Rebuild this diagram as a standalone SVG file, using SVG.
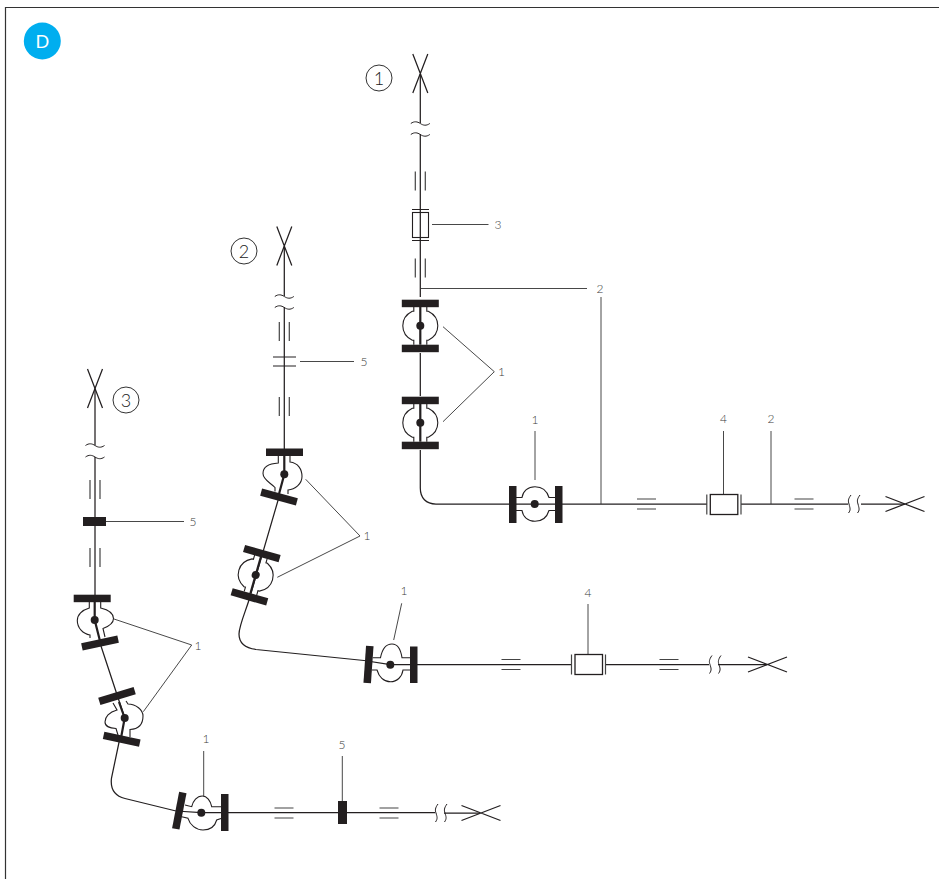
<svg xmlns="http://www.w3.org/2000/svg" width="939" height="879" viewBox="0 0 939 879">
<style>
.p{fill:none;stroke:#231f20;stroke-width:1.25}
.b{fill:none;stroke:#231f20;stroke-width:1.1}
.t{fill:none;stroke:#231f20;stroke-width:2.2}
.s{fill:none;stroke:#231f20;stroke-width:1}
.k{fill:none;stroke:#444;stroke-width:1.2}
.l{fill:none;stroke:#333;stroke-width:.9}
.f{fill:#231f20;stroke:none}
.tx{font-family:"Lato","Liberation Sans",sans-serif;font-size:12px;font-weight:300;fill:#3a3a3a;text-anchor:middle}
.cn{font-family:"Lato","Liberation Sans",sans-serif;font-size:18px;font-weight:300;fill:#222;text-anchor:middle}
.c{fill:none;stroke:#333;stroke-width:1}
.w{fill:#fff;stroke:#231f20;stroke-width:1.3}
</style>
<defs>
<g id="valve">
<rect class="f" x="-18.500" y="-26" width="37" height="7.500"/>
<rect class="f" x="-18.500" y="19" width="37" height="7.500"/>
<path class="b" d="M-6.500,-19V-14.500H-8C-13,-12 -17.500,-7 -17.500,0C-17.500,7 -13,12 -8,14.500H-6.500V19"/>
<path class="b" d="M6.500,-19V-14.500H8C13,-12 17.500,-7 17.500,0C17.500,7 13,12 8,14.500H6.500V19"/>
<path class="t" d="M0,-19V19"/>
<circle class="f" r="4"/>
</g>
<path id="wave" class="s" d="M-9.500,0C-6,-2.500 -3,-2 0,0C3,2 6,2.500 9.500,0"/>
<path id="ticks" class="k" d="M-5,-9.500V9.500M5,-9.500V9.500"/>
<path id="cross" class="p" d="M-19.500,-7.500L19.500,7.500M-19.500,7.500L19.500,-7.500"/>
</defs>

<g id="frame"><path d="M5.500,879V7.500H939" fill="none" stroke="#333" stroke-width="1.200"/></g>
<g id="badge"><circle cx="42.300" cy="41" r="18.500" fill="#00aeef"/><text x="42.300" y="47.500" font-family="Lato,'Liberation Sans',sans-serif" font-size="18" fill="#fff" text-anchor="middle">D</text></g>

<g id="connectors">
<path class="p" d="M420.300,74V123M420.300,134V297M420.300,353V396M420.300,450V488C420.300,498 426,504 436,504H510M560,504H707M741,504H848M861,504H905"/>
<use href="#cross" transform="translate(420.300,73.500) rotate(90)"/>
<use href="#wave" x="420.300" y="123.500"/>
<use href="#wave" x="420.300" y="134.500"/>
<use href="#ticks" x="420.300" y="181"/>
<use href="#ticks" x="420.300" y="268"/>
<path class="l" d="M432,224.500H488.500M420.300,288.500H587M601,297V504M443,326.700L494.300,371.700L443,421.700M535,431V480M723.500,431V494M771,431V504"/>
<use href="#ticks" transform="translate(646.500,504) rotate(90)"/>
<use href="#ticks" transform="translate(804,504) rotate(90)"/>
<path class="s" d="M851,495C848,499 848,501 849,504C850,508 851,510 848.500,513M860,495C857,499 857,501 858,504C859,508 860,510 857.500,513"/>
<use href="#cross" x="905" y="504"/>

<path class="p" d="M284.300,246V296M284.300,307V449M279,497L249,600C246,610 239,626 239,634C239,643 245,648 256,649.500L364,660.500L390.300,664.700H571M605,664.500H709M718,664.500H767"/>
<use href="#cross" transform="translate(284.300,246) rotate(90)"/>
<use href="#wave" x="284.300" y="296.500"/>
<use href="#wave" x="284.300" y="307.500"/>
<use href="#ticks" x="284.300" y="331.500"/>
<use href="#ticks" x="284.300" y="406.500"/>
<path class="l" d="M300,361.500H354M305.700,479.300L360,536L277.300,577.300M401.700,603.300L393.700,640M588,604V654"/>
<use href="#ticks" transform="translate(511,664.500) rotate(90)"/>
<use href="#ticks" transform="translate(669,664.500) rotate(90)"/>
<path class="s" d="M712,655.500C709,659.500 709,662 710,664.500C711,668 712,670 709.500,673.500M721,655.500C718,659.500 718,662 719,664.500C720,668 721,670 718.500,673.500"/>
<use href="#cross" x="767.500" y="664.500"/>

<path class="p" d="M95,388V445M95,457V595M100,643L124.700,718M119.500,740L111.500,778C110,790 115,796 125,798.500L176,811L201.300,812.700H435M444,813H480"/>
<use href="#cross" transform="translate(95,388.500) rotate(90)"/>
<use href="#wave" x="95" y="445.500"/>
<use href="#wave" x="95" y="457"/>
<use href="#ticks" x="95" y="489.500"/>
<use href="#ticks" x="95" y="557.500"/>
<path class="l" d="M106,521.500H184M114,619L191.700,645L143.300,711.700M203.700,751V796M342.300,756V801"/>
<use href="#ticks" transform="translate(284,813) rotate(90)"/>
<use href="#ticks" transform="translate(389,813) rotate(90)"/>
<path class="s" d="M438,804C435,808 435,810.500 436,813C437,816.500 438,818.500 435.500,822M447,804C444,808 444,810.500 445,813C446,816.500 447,818.500 444.500,822"/>
<use href="#cross" x="481" y="813"/>
</g>

<g id="c1"><circle class="c" cx="379" cy="78" r="13"/><text class="cn" x="379" y="84.500">1</text></g>
<g id="c2"><circle class="c" cx="244" cy="251" r="13"/><text class="cn" x="244" y="257.500">2</text></g>
<g id="c3"><circle class="c" cx="126" cy="400" r="13"/><text class="cn" x="126" y="406.500">3</text></g>

<g id="fuse1"><path class="s" d="M412,209.500H429M412,240.500H429"/><rect class="b" x="412.500" y="212.500" width="16" height="25"/></g>
<g id="valve1a"><use href="#valve" x="420.300" y="325.700"/></g>
<g id="valve1b"><use href="#valve" x="420.300" y="422.700"/></g>
<g id="valve1c">
<rect class="f" x="509" y="486" width="7.500" height="37"/><rect class="f" x="555" y="486" width="7.500" height="37"/>
<path class="b" d="M516,497.500H522C523,491 528,486.700 535,486.700C542,486.700 547,491 549,497.500H555"/>
<path class="b" d="M516,510.500H522C523,517 528,521.300 535,521.300C542,521.300 547,517 549,510.500H555"/>
<path class="p" d="M516,504H555"/><circle class="f" cx="534.700" cy="504" r="4"/>
</g>
<g id="meter1"><rect class="w" x="710.300" y="494.500" width="27.500" height="20"/><path class="k" d="M706.800,494.500V514.500M741,494.500V514.500"/></g>

<g id="joint2"><path class="s" d="M273,357H296M273,366H296"/></g>
<g id="valve2a">
<rect class="f" x="266" y="448.500" width="37" height="7.500"/>
<rect class="f" x="-18.500" y="-3.750" width="37" height="7.500" transform="translate(279,497) rotate(15)"/>
<path class="b" d="M278.300,456V463C271,463.500 263,466 263,473.500C263,480 271,483 275,487.500V491.500"/>
<path class="b" d="M290,456V462C298,463 302,469 302,476.500C302,484 295,489.500 288,490V494"/>
<path class="t" d="M284.300,456V474.300L279,494"/>
<circle class="f" cx="284.300" cy="474.300" r="4"/>
</g>
<g id="valve2b"><use href="#valve" transform="translate(255.700,575) rotate(16)"/></g>
<g id="valve2c">
<rect class="f" x="-3.750" y="-18.500" width="7.500" height="37" transform="translate(368.500,664.500) rotate(4)"/>
<rect class="f" x="410" y="646.500" width="7.500" height="36.500"/>
<path class="b" d="M372.700,657.700H380.500C382,650 386,644 392,644C398,644 401,651 402,657.700H410"/>
<path class="b" d="M372,670H377C379,677 384,681.700 390.500,681.700C397,681.700 402,677 403,670H410"/>
<circle class="f" cx="390.300" cy="664.700" r="4"/>
</g>
<g id="meter2"><rect class="w" x="575" y="654.500" width="27.500" height="20"/><path class="k" d="M571.500,654.500V674.500M605.500,654.500V674.500"/></g>

<g id="block3"><rect class="f" x="83" y="517" width="23" height="9"/></g>
<g id="valve3a">
<rect class="f" x="73.700" y="594.700" width="37" height="7.500"/>
<rect class="f" x="-18.500" y="-3.750" width="37" height="7.500" transform="translate(100,643) rotate(-12)"/>
<path class="b" d="M89.300,602V608C82,610 77.300,615 77.300,620.500C77.300,628 83,634 90,635V638"/>
<path class="b" d="M100.700,602V608C107,609.500 113.500,612 113.500,618.500C113.500,624 107,627 103,628.500L105,637"/>
<path class="t" d="M94.700,602V620L100,641"/>
<circle class="f" cx="94.700" cy="620" r="4"/>
</g>
<g id="valve3b">
<rect class="f" x="-18.500" y="-3.750" width="37" height="7.500" transform="translate(117,696) rotate(-17)"/>
<rect class="f" x="-18.500" y="-3.750" width="37" height="7.500" transform="translate(121.700,739.300) rotate(12)"/>
<path class="b" d="M113,703L117,710C109,712 105,717 105,722C105,727 110,728 116,728.500L118,735"/>
<path class="b" d="M126,701L128,704C136,704 143,710 143,716C143,724 139,729 130,729.500V737"/>
<path class="t" d="M119,702L124.700,718L121,738"/>
<circle class="f" cx="124.700" cy="718" r="4"/>
</g>
<g id="valve3c">
<rect class="f" x="-3.750" y="-18.500" width="7.500" height="37" transform="translate(179.300,810.700) rotate(11)"/>
<rect class="f" x="221" y="794" width="7.500" height="37"/>
<path class="b" d="M185,805L191.700,806.700C193,801 197,796 202.300,796C207,796 210.500,801 211.700,806.700H221"/>
<path class="b" d="M181.700,816.700L188,818.300C190,825 196,830 203,830C210,830 215,826 216.700,820L221,818.500"/>
<circle class="f" cx="201.300" cy="812.700" r="4"/>
</g>
<g id="block3b"><rect class="f" x="338" y="801" width="9" height="23"/></g>

<g id="labels">
<text class="tx" x="498" y="229">3</text><text class="tx" x="600" y="293">2</text><text class="tx" x="501.500" y="376">1</text>
<text class="tx" x="535" y="424">1</text><text class="tx" x="723.500" y="423">4</text><text class="tx" x="771" y="423">2</text>
<text class="tx" x="364" y="366">5</text><text class="tx" x="367" y="540">1</text><text class="tx" x="404" y="595">1</text><text class="tx" x="588" y="597">4</text>
<text class="tx" x="193" y="526">5</text><text class="tx" x="198" y="650">1</text><text class="tx" x="206" y="743">1</text><text class="tx" x="342" y="749">5</text>
</g>
</svg>
